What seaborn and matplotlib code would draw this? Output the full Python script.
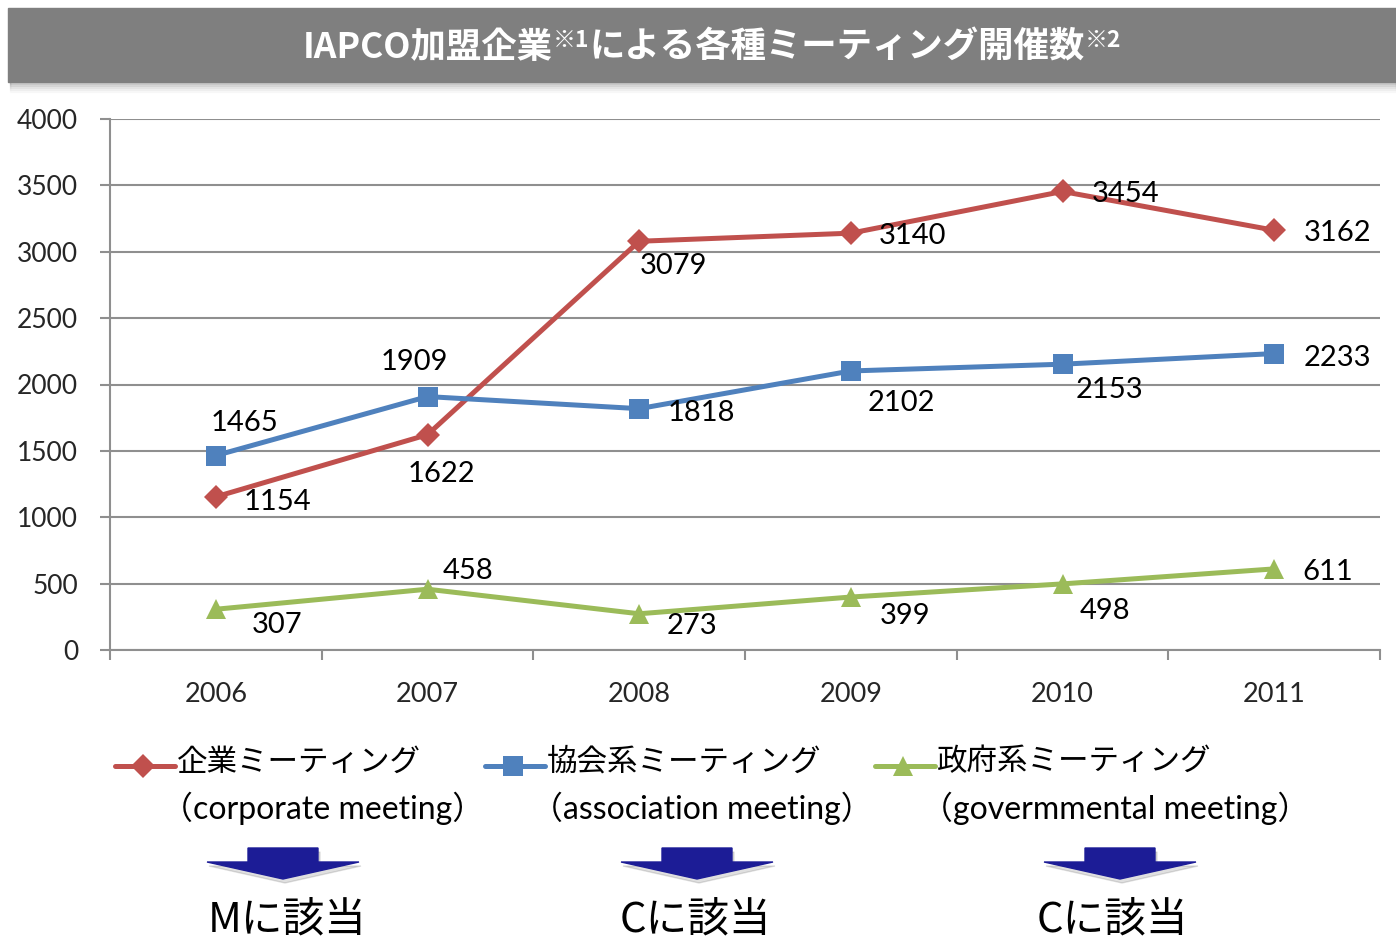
import pandas as pd
import matplotlib
matplotlib.use("Agg")
import matplotlib.pyplot as plt
import seaborn as sns
from matplotlib.lines import Line2D
from matplotlib.patches import Rectangle, Polygon
from matplotlib.ticker import FixedLocator

W, H = 1396, 939

years = ["2006", "2007", "2008", "2009", "2010", "2011"]
corporate = [1154, 1622, 3079, 3140, 3454, 3162]
association = [1465, 1909, 1818, 2102, 2153, 2233]
governmental = [307, 458, 273, 399, 498, 611]

series_names = ["企業ミーティング", "協会系ミーティング", "政府系ミーティング"]
series_en = ["（corporate meeting）", "（association meeting）", "（govermmental meeting）"]
categories = ["Mに該当", "Cに該当", "Cに該当"]
title_parts = ["IAPCO加盟企業", "※1", "による各種ミーティング開催数", "※2"]

colors = ["#C0504D", "#4F81BD", "#9BBB59"]
markers = ["D", "s", "^"]
msizes = [12, 14, 14]

# label offsets in pixels (dx right, dy down) from each point
label_off = [
    [(62, 2), (14, 36), (34, 22), (62, 0), (63, 0), (63, 0)],
    [(29, -36), (-13, -38), (62, 1), (51, 29), (47, 23), (63, 1)],
    [(61, 13), (41, -21), (53, 9), (54, 16), (42, 24), (54, 0)],
]

sns.set_theme(style="white")
plt.rcParams["font.family"] = ["Lato", "Noto Sans CJK JP", "DejaVu Sans"]

def fx(x):
    return x / W

def fy(y):
    return 1 - y / H

fig = plt.figure(figsize=(W / 100, H / 100), dpi=100)
ax = fig.add_axes([fx(110), fy(650), fx(1380) - fx(110), fy(119) - fy(650)])

df = pd.DataFrame({
    "year": years * 3,
    "value": corporate + association + governmental,
    "type": [series_names[0]] * 6 + [series_names[1]] * 6 + [series_names[2]] * 6,
})

for i, name in enumerate(series_names):
    sub = df[df["type"] == name]
    sns.lineplot(data=sub, x="year", y="value", ax=ax, color=colors[i],
                 marker=markers[i], markersize=msizes[i], markeredgewidth=0,
                 linewidth=3.6, sort=False, legend=False)

all_vals = [corporate, association, governmental]
for i, vals in enumerate(all_vals):
    for j, v in enumerate(vals):
        dx, dy = label_off[i][j]
        ax.annotate(str(v), (j, v), xytext=(dx * 0.72, -(dy + 3) * 0.72),
                    textcoords="offset points", ha="center", va="center",
                    fontsize=21, color="black")

grey = "#8f8f8f"
ax.set_xlim(-0.5, 5.5)
ax.set_ylim(0, 4000)
ax.set_yticks(range(0, 4001, 500))
ax.yaxis.grid(True, color=grey, linewidth=1.5)
ax.set_axisbelow(True)
ax.set_xlabel("")
ax.set_ylabel("")
for s in ["top", "right"]:
    ax.spines[s].set_visible(False)
for s in ["left", "bottom"]:
    ax.spines[s].set_color(grey)
    ax.spines[s].set_linewidth(1.5)
ax.tick_params(axis="y", which="major", length=7, width=1.5, color=grey,
               direction="out", pad=16, labelsize=19, left=True)
ax.xaxis.set_minor_locator(FixedLocator([k - 0.5 for k in range(7)]))
ax.tick_params(axis="x", which="minor", length=7, width=1.5, color=grey,
               direction="out", bottom=True)
ax.tick_params(axis="x", which="major", length=0, pad=23, labelsize=19.5)

# title banner with shadow
for k, a in enumerate([0.06, 0.05, 0.04, 0.03, 0.02]):
    fig.patches.append(Rectangle((fx(10), fy(82 + 2 * (k + 1))), fx(1396 - 10), fy(8) - fy(82),
                                 transform=fig.transFigure, color="black", alpha=a, zorder=0))
fig.patches.append(Rectangle((fx(8), fy(82)), fx(1396 - 8), fy(8) - fy(82),
                             transform=fig.transFigure, color="#7f7f7f", zorder=1))

tfam = ["Noto Sans CJK JP", "DejaVu Sans"]
sizes = [25.5, 16.5, 25.5, 16.5]
raise_px = [0, 11, 0, 11]
txts = []
for part, sz in zip(title_parts, sizes):
    txts.append(fig.text(0, 0, part, fontsize=sz, fontweight="bold", color="white",
                         family=tfam, ha="left", va="baseline", zorder=5))
fig.canvas.draw()
r = fig.canvas.get_renderer()
widths = [t.get_window_extent(r).width for t in txts]
x0 = 712 - sum(widths) / 2
base = 58
for t, w, rp in zip(txts, widths, raise_px):
    t.set_position((fx(x0), fy(base - rp)))
    x0 += w

# legend
leg_x = [115, 485, 875]
for i in range(3):
    lx = leg_x[i]
    fig.add_artist(Line2D([fx(lx), fx(lx + 60)], [fy(766), fy(766)], color=colors[i],
                          linewidth=3.6, transform=fig.transFigure))
    fig.add_artist(Line2D([fx(lx + 28)], [fy(766)], color=colors[i], marker=markers[i],
                          markersize=msizes[i], markeredgewidth=0, linestyle="none",
                          transform=fig.transFigure))
    fig.text(fx(lx + 62), fy(762), series_names[i], fontsize=22, family=tfam,
             ha="left", va="center", color="black")
    fig.text(fx(lx + 46), fy(808), series_en[i], fontsize=23,
             family=["Lato", "Noto Sans CJK JP"], ha="left", va="center", color="black")

# arrows and category notes
arrow_cx = [283, 697, 1120]
text_cx = [287, 695, 1112]
for i in range(3):
    cx = arrow_cx[i]
    pts = [(cx - 35, 848), (cx + 35, 848), (cx + 35, 862), (cx + 76, 862),
           (cx, 879), (cx - 76, 862), (cx - 35, 862)]
    sh = [(fx(x + 2), fy(y + 4)) for x, y in pts]
    fig.patches.append(Polygon(sh, closed=True, transform=fig.transFigure,
                               color="black", alpha=0.12, zorder=1))
    fig.patches.append(Polygon([(fx(x), fy(y)) for x, y in pts], closed=True,
                               transform=fig.transFigure, color="#1c1c96", zorder=2))
    fig.text(fx(text_cx[i]), fy(920), categories[i], fontsize=30, family=tfam,
             ha="center", va="center", color="black")

fig.savefig("out.png", dpi=100)
